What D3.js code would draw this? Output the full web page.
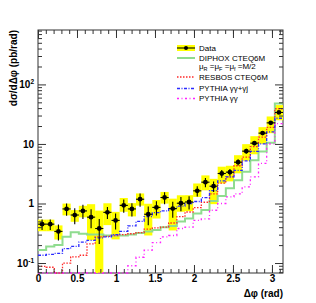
<!DOCTYPE html>
<html>
<head>
<meta charset="utf-8">
<script src="https://cdn.jsdelivr.net/npm/d3@7"></script>
<style>
  body { margin: 0; background: #fff; }
  text { font-family: "Liberation Sans", Arial, Helvetica, sans-serif; }
</style>
</head>
<body>
<svg id="chart" width="316" height="303"></svg>
<script>
// 30 bins in delta phi, 0 .. pi
var nBins = 30;
var edges = d3.range(nBins + 1).map(function(i) { return i * Math.PI / nBins; });

// measured cross section (pb/rad)
var dataVals = [0.45, 0.45, 0.34, 0.81, 0.64, 0.75, 0.59, 0.38, 0.71, 0.52,
                0.93, 0.81, 1.18, 0.66, 0.86, 1.26, 0.82, 1.01, 1.06, 1.63,
                2.28, 1.95, 3.19, 3.36, 4.94, 7.57, 10.3, 15.2, 22.6, 33.8];
// relative statistical error
var statErr = [0.2, 0.2, 0.3, 0.23, 0.3, 0.27, 0.35, 0.45, 0.23, 0.3,
               0.25, 0.25, 0.25, 0.35, 0.27, 0.23, 0.3, 0.27, 0.25, 0.2,
               0.18, 0.2, 0.15, 0.13, 0.12, 0.1, 0.08, 0.07, 0.06, 0.05];
// relative systematic error, up and down (yellow boxes)
var sysUp = [0.19, 0.19, 0.26, 0.23, 0.21, 0.22, 0.65, 1.0, 0.42, 0.39,
             0.33, 0.25, 0.25, 0.5, 0.33, 0.24, 0.47, 0.36, 0.3, 0.33,
             0.3, 0.33, 0.3, 0.28, 0.31, 0.31, 0.31, 0.26, 0.28, 0.33];
var sysDn = [0.24, 0.24, 0.27, 0.22, 0.23, 0.22, 0.59, 0.95, 0.39, 0.52,
             0.22, 0.25, 0.22, 0.56, 0.35, 0.21, 0.57, 0.28, 0.3, 0.21,
             0.27, 0.5, 0.32, 0.3, 0.35, 0.31, 0.35, 0.34, 0.33, 0.26];

// theory predictions
var diphox = [0.165, 0.19, 0.2, 0.275, 0.33, 0.31, 0.3, 0.3, 0.29, 0.29,
              0.29, 0.3, 0.32, 0.34, 0.36, 0.4, 0.42, 0.5, 0.56, 0.68,
              0.78, 1.1, 1.33, 1.8, 2.45, 3.4, 5.3, 7.5, 10.5, 48];
var resbos = [0.088, 0.085, 0.06, 0.1, 0.127, 0.135, 0.21, 0.275, 0.28, 0.29,
              0.3, 0.31, 0.325, 0.37, 0.39, 0.4, 0.47, 0.6, 0.72, 0.85,
              1.05, 1.45, 2.2, 2.8, 4.3, 6.0, 9.0, 13, 19, 39];
var pythiaAll = [0.135, 0.14, 0.145, 0.175, 0.19, 0.225, 0.24, 0.265, 0.275, 0.3,
                 0.34, 0.42, 0.5, 0.6, 0.7, 0.75, 0.82, 0.9, 1.0, 1.08,
                 1.25, 1.65, 2.4, 2.8, 3.6, 5.2, 7.5, 10, 16, 27];
var pythiaGG = [0.05, 0.05, 0.05, 0.05, 0.05, 0.05, 0.05, 0.05, 0.05, 0.05,
                0.06, 0.09, 0.125, 0.165, 0.22, 0.275, 0.29, 0.38, 0.4, 0.52,
                0.55, 0.77, 1.0, 1.29, 1.45, 1.9, 2.8, 4.7, 10, 22];

var xTicks = [0, 0.5, 1, 1.5, 2, 2.5, 3];
var yTicks = [0.1, 1, 10, 100];

var series = [
  { name: "DIPHOX CTEQ6M", vals: diphox, color: "#8fdc8f", width: 2, dash: null },
  { name: "RESBOS CTEQ6M", vals: resbos, color: "#ff2a2a", width: 1.3, dash: "1.5,1.5" },
  { name: "PYTHIA \u03b3\u03b3+\u03b3j", vals: pythiaAll, color: "#2a2aff", width: 1.3, dash: "3,1.5,1,1.5" },
  { name: "PYTHIA \u03b3\u03b3", vals: pythiaGG, color: "#ff22ff", width: 1.3, dash: "2,2.5,1,2.5" }
];

var svg = d3.select("#chart");
var leftX = 38, rightX = 283, topY = 30, bottomY = 273;
var yMin = 0.068, yMax = 820;

var x = d3.scaleLinear().domain([0, Math.PI]).range([leftX, rightX]);
var y = d3.scaleLog().domain([yMin, yMax]).range([bottomY, topY]);
var yc = function(v) { return y(Math.max(v, yMin)); };

// frame first, so histograms sitting on the floor stay visible
svg.append("rect")
  .attr("x", leftX).attr("y", topY)
  .attr("width", rightX - leftX).attr("height", bottomY - topY)
  .style("fill", "none").style("stroke", "#333").style("stroke-width", 1);

var plot = svg.append("g");

// systematic boxes
plot.selectAll("rect.sys")
  .data(dataVals)
  .enter().append("rect")
  .attr("class", "sys")
  .attr("x", function(d, i) { return x(edges[i]); })
  .attr("width", function(d, i) { return x(edges[i + 1]) - x(edges[i]); })
  .attr("y", function(d, i) { return y(d * (1 + sysUp[i])); })
  .attr("height", function(d, i) { return yc(d * (1 - sysDn[i])) - y(d * (1 + sysUp[i])); })
  .style("fill", "#ffff00");

// theory step histograms
var step = d3.line()
  .x(function(d) { return x(d[0]); })
  .y(function(d) { return yc(d[1]); })
  .curve(d3.curveStepAfter);

series.forEach(function(s) {
  var p = s.vals.map(function(v, i) { return [edges[i], v]; });
  p.push([Math.PI, s.vals[nBins - 1]]);
  plot.append("path")
    .attr("d", step(p))
    .style("fill", "none")
    .style("stroke", s.color)
    .style("stroke-width", s.width)
    .style("stroke-dasharray", s.dash);
});

// data points with stat errors
var pts = plot.selectAll("g.pt").data(dataVals).enter().append("g");
pts.append("line")
  .attr("x1", function(d, i) { return x((edges[i] + edges[i + 1]) / 2); })
  .attr("x2", function(d, i) { return x((edges[i] + edges[i + 1]) / 2); })
  .attr("y1", function(d, i) { return y(d * (1 + statErr[i])); })
  .attr("y2", function(d, i) { return yc(d * (1 - statErr[i])); })
  .style("stroke", "#000").style("stroke-width", 1.1);
pts.append("line")
  .attr("x1", function(d, i) { return x(edges[i]); })
  .attr("x2", function(d, i) { return x(edges[i + 1]); })
  .attr("y1", function(d) { return y(d); })
  .attr("y2", function(d) { return y(d); })
  .style("stroke", "#000").style("stroke-width", 1.1);
pts.append("circle")
  .attr("cx", function(d, i) { return x((edges[i] + edges[i + 1]) / 2); })
  .attr("cy", function(d) { return y(d); })
  .attr("r", 2.4)
  .style("fill", "#000");

// axes: minor and major ticks, all pointing inward
var xMinor = d3.range(0, 3.15, 0.1);
var yMinor = [];
[0.01, 0.1, 1, 10, 100].forEach(function(p) {
  for (var k = 2; k <= 9; k++) {
    var v = k * p;
    if (v > yMin && v < yMax) yMinor.push(v);
  }
});

function styleAxis(g) {
  g.select(".domain").remove();
  g.selectAll(".tick line").style("stroke", "#333");
}

svg.append("g").attr("transform", "translate(0," + bottomY + ")")
  .call(d3.axisBottom(x).tickValues(xMinor).tickSizeInner(-4).tickSizeOuter(0).tickFormat(""))
  .call(styleAxis);
svg.append("g").attr("transform", "translate(0," + topY + ")")
  .call(d3.axisTop(x).tickValues(xMinor).tickSizeInner(-4).tickSizeOuter(0).tickFormat(""))
  .call(styleAxis);
svg.append("g").attr("transform", "translate(0," + topY + ")")
  .call(d3.axisTop(x).tickValues(xTicks).tickSizeInner(-8).tickSizeOuter(0).tickFormat(""))
  .call(styleAxis);
var xAx = svg.append("g").attr("transform", "translate(0," + bottomY + ")")
  .call(d3.axisBottom(x).tickValues(xTicks).tickSizeInner(-8).tickSizeOuter(0).tickPadding(2)
    .tickFormat(function(d) { return String(d); }))
  .call(styleAxis);
xAx.selectAll(".tick text")
  .style("font-size", "10px").style("font-weight", "bold").style("fill", "#000");

svg.append("g").attr("transform", "translate(" + leftX + ",0)")
  .call(d3.axisLeft(y).tickValues(yMinor).tickSizeInner(-4).tickSizeOuter(0).tickFormat(""))
  .call(styleAxis);
svg.append("g").attr("transform", "translate(" + rightX + ",0)")
  .call(d3.axisRight(y).tickValues(yMinor).tickSizeInner(-4).tickSizeOuter(0).tickFormat(""))
  .call(styleAxis);
svg.append("g").attr("transform", "translate(" + rightX + ",0)")
  .call(d3.axisRight(y).tickValues(yTicks).tickSizeInner(-8).tickSizeOuter(0).tickFormat(""))
  .call(styleAxis);
var yAx = svg.append("g").attr("transform", "translate(" + leftX + ",0)")
  .call(d3.axisLeft(y).tickValues(yTicks).tickSizeInner(-8).tickSizeOuter(0).tickPadding(4)
    .tickFormat(function() { return ""; }))
  .call(styleAxis);
yAx.selectAll(".tick text").each(function(d) {
  var t = d3.select(this)
    .style("font-size", "10px").style("font-weight", "bold").style("fill", "#000");
  if (d === 1) { t.text("1"); return; }
  if (d === 10) { t.text("10"); return; }
  t.append("tspan").text("10");
  t.append("tspan").attr("dy", -4).style("font-size", "6.5px")
    .text(d === 100 ? "2" : "-1");
});

// axis titles
svg.append("text")
  .attr("transform", "translate(17," + topY + ") rotate(-90)")
  .attr("text-anchor", "end")
  .style("font-size", "10px").style("font-weight", "bold")
  .text("d\u03c3/d\u0394\u03c6 (pb/rad)");
svg.append("text")
  .attr("x", rightX).attr("y", 297)
  .attr("text-anchor", "end")
  .style("font-size", "10px").style("font-weight", "bold")
  .text("\u0394\u03c6 (rad)");

// legend
var lg = svg.append("g");
var lx0 = 177, lx1 = 195, tx = 199;
lg.append("rect").attr("x", lx0).attr("y", 45).attr("width", lx1 - lx0).attr("height", 6)
  .style("fill", "#ffff00");
lg.append("line").attr("x1", lx0).attr("x2", lx1).attr("y1", 48).attr("y2", 48)
  .style("stroke", "#000").style("stroke-width", 1.1);
lg.append("circle").attr("cx", (lx0 + lx1) / 2).attr("cy", 48).attr("r", 2).style("fill", "#000");
lg.append("text").attr("x", tx).attr("y", 50.5).style("font-size", "8px").text("Data");

var rowsY = [58, 77, 88.5, 98.5];
series.forEach(function(s, i) {
  lg.append("line").attr("x1", lx0).attr("x2", lx1)
    .attr("y1", rowsY[i]).attr("y2", rowsY[i])
    .style("stroke", s.color).style("stroke-width", s.width)
    .style("stroke-dasharray", s.dash);
  lg.append("text").attr("x", tx).attr("y", rowsY[i] + 2.8)
    .style("font-size", "8px").text(s.name);
});
var muY = 69;
var mu = lg.append("text").attr("x", tx).attr("y", muY).style("font-size", "8px");
[["\u03bc", "R"], [" =\u03bc", "F"], [" =\u03bc", "f"]].forEach(function(p) {
  mu.append("tspan").attr("y", muY).text(p[0]);
  mu.append("tspan").attr("y", muY + 1.6).style("font-size", "5.5px").text(p[1]);
});
mu.append("tspan").attr("y", muY).text(" =M/2");
</script>
</body>
</html>
